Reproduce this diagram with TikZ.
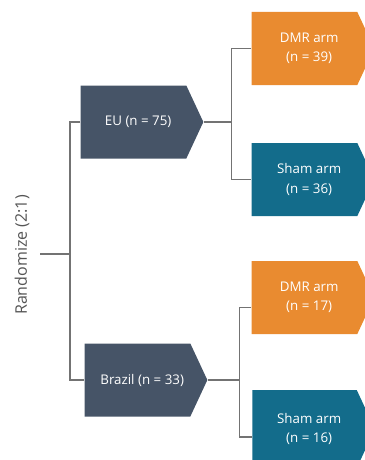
\documentclass[tikz,border=0pt]{standalone}
\usepackage{fontspec}
\setmainfont{Open Sans}
\usetikzlibrary{shapes.symbols}
\definecolor{slate}{HTML}{465467}
\definecolor{armorange}{HTML}{E98B30}
\definecolor{armteal}{HTML}{136C8B}
\definecolor{linegray}{HTML}{737373}
\definecolor{textgray}{HTML}{555555}
\newcommand{\nudge}{\hspace*{7pt}}
\begin{document}
\begin{tikzpicture}[x=0.75pt,y=-0.75pt,
	box/.style = {signal, signal to=east, signal pointer angle=130, draw=none, text=white,
		inner sep=0pt, minimum width=92pt, minimum height=54.75pt, align=center,
		font=\fontsize{10}{14.5}\selectfont},
	region/.style = {box, fill=slate},
	dmr/.style = {box, fill=armorange},
	sham/.style = {box, fill=armteal},
	link/.style = {draw=linegray, line width=1.1pt}]
	\useasboundingbox (0,0) rectangle (364,460);
	\node[rotate=90, text=textgray, font=\fontsize{12}{14}\selectfont] (rand) at (22,255) {Randomize (2:1)};
	\coordinate (root) at (40,254);
	\coordinate (split) at (70,254);
	\node[region] (eu) at (133.5,122) {\nudge EU (n = 75)};
	\node[region] (brazil) at (137.5,380) {\nudge Brazil (n = 33)};
	\node[dmr] (dmr1) at (304.5,48.5) {\nudge DMR arm\\\nudge (n = 39)};
	\node[sham] (sham1) at (304.5,179.5) {\nudge Sham arm\\\nudge (n = 36)};
	\node[dmr] (dmr2) at (304.5,297.5) {\nudge DMR arm\\\nudge (n = 17)};
	\node[sham, minimum height=58.5pt] (sham2) at (304.5,429) {\nudge Sham arm\\\nudge (n = 16)};
	\draw[link] (root) -- (split);
	\draw[link] (eu.west) -| (split) |- (brazil.west);
	\draw[link] (eu.east) -- ++(28,0) coordinate (eusplit);
	\draw[link] (dmr1.west) -| (eusplit) |- (sham1.west);
	\draw[link] (brazil.east) -- ++(32,0) coordinate (brsplit);
	\draw[link] ([yshift=-7.5pt]dmr2.west) -| (brsplit) |- ([yshift=-6pt]sham2.west);
\end{tikzpicture}
\end{document}
